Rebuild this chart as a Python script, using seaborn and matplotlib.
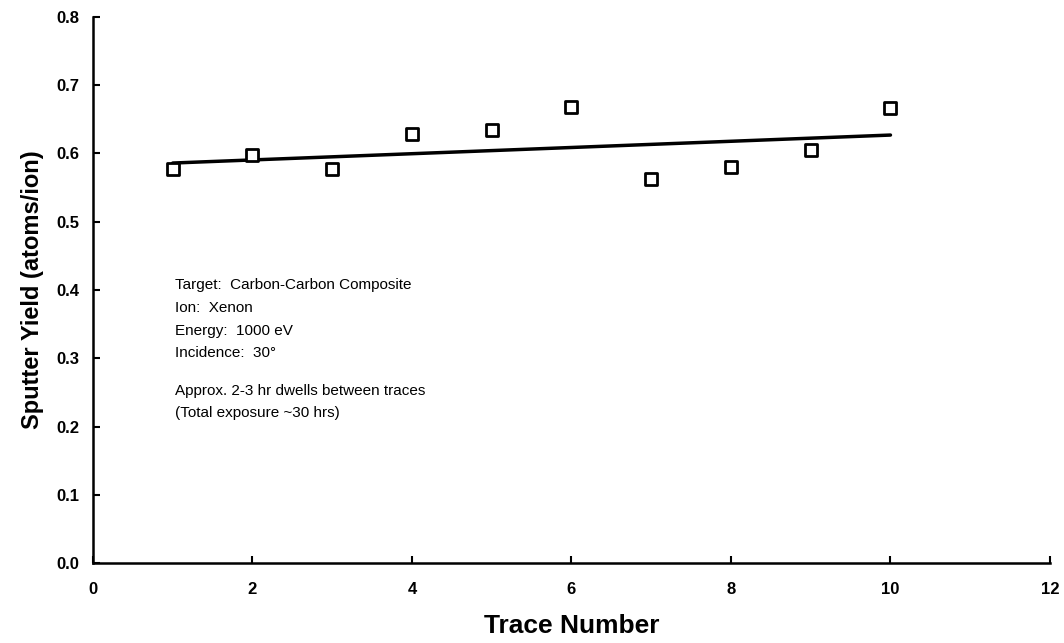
import numpy as np
import pandas as pd
import matplotlib
matplotlib.use("Agg")
import matplotlib.pyplot as plt
import seaborn as sns

sns.set_style("ticks")
plt.rcParams['font.family'] = ['Liberation Sans', 'DejaVu Sans']
plt.rcParams['text.color'] = 'black'
plt.rcParams['axes.labelcolor'] = 'black'
plt.rcParams['xtick.color'] = 'black'
plt.rcParams['ytick.color'] = 'black'
plt.rcParams['axes.edgecolor'] = 'black'

# values
trace = [1, 2, 3, 4, 5, 6, 7, 8, 9, 10]
sputter_yield = [0.577, 0.598, 0.577, 0.628, 0.634, 0.668, 0.563, 0.580, 0.605, 0.667]
# fitted trend line as drawn in the picture
trend_x = [1, 10]
trend_y = [0.586, 0.627]
x_ticks = [0, 2, 4, 6, 8, 10, 12]
y_ticks = [0.0, 0.1, 0.2, 0.3, 0.4, 0.5, 0.6, 0.7, 0.8]

df = pd.DataFrame({"Trace": trace, "Yield": sputter_yield})
trend = pd.DataFrame({"Trace": trend_x, "Yield": trend_y})

fig = plt.figure(figsize=(10.64, 6.43), dpi=100)
ax = fig.add_axes([0.0874, 0.1244, 0.8994, 0.8492])

sns.lineplot(data=trend, x="Trace", y="Yield", ax=ax, color="black", lw=2.5, zorder=2)
sns.scatterplot(data=df, x="Trace", y="Yield", ax=ax, marker="s", s=85,
                facecolor="white", edgecolor="black", linewidth=2, zorder=3)

ax.set_xlim(0, 12)
ax.set_ylim(0, 0.8)
ax.set_xticks(x_ticks)
ax.set_yticks(y_ticks)
ax.set_xticklabels([str(t) for t in x_ticks], fontsize=12, fontweight="bold")
ax.set_yticklabels([f"{t:.1f}" for t in y_ticks], fontsize=12, fontweight="bold")
ax.tick_params(direction="in", length=5, width=1.5)
ax.tick_params(axis="y", pad=10)
ax.tick_params(axis="x", pad=14)
for side in ["top", "right"]:
    ax.spines[side].set_visible(False)
for side in ["left", "bottom"]:
    ax.spines[side].set_linewidth(1.8)

ax.set_xlabel("Trace Number", fontsize=19, fontweight="bold", labelpad=12)
ax.set_ylabel("Sputter Yield (atoms/ion)", fontsize=17, fontweight="bold", labelpad=9)

ax.text(0.0857, 0.522, "Target:  Carbon-Carbon Composite\nIon:  Xenon\nEnergy:  1000 eV\nIncidence:  30°",
        transform=ax.transAxes, fontsize=11, va="top", linespacing=1.8)
ax.text(0.0857, 0.327, "Approx. 2-3 hr dwells between traces\n(Total exposure ~30 hrs)",
        transform=ax.transAxes, fontsize=11, va="top", linespacing=1.7)

fig.savefig("out.png", dpi=100)
